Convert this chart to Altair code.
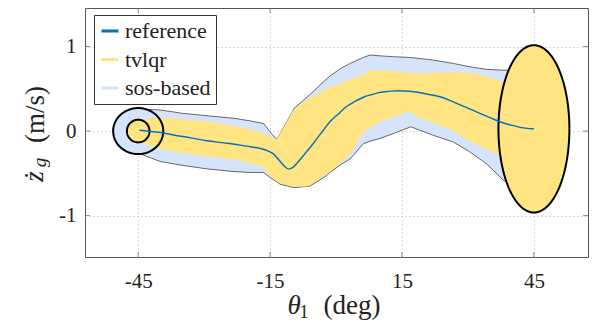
import numpy as np
import pandas as pd
import altair as alt

# ---------------- data ----------------
x_ticks = [-45, -15, 15, 45]
y_ticks = [-1, 0, 1]

ref_theta = [-44.7, -42, -39.6, -37, -33, -29.4, -25.5, -21.8, -19.5, -17.3, -15.7, -14.25,
             -12.7, -11.2, -10.8, -9.8, -8.9, -6.7, -4.8, -2.9, -1.4, 0.9, 2.4, 4.3, 6.2, 8,
             10, 12, 13.8, 15.7, 17.6, 19.5, 21.4, 23.6, 26, 28.2, 30.5, 32.7, 35, 37.3,
             39.5, 41.8, 43.5, 45]
ref_z = [0.01, -0.005, -0.02, -0.047, -0.08, -0.115, -0.14, -0.166, -0.186, -0.205, -0.23, -0.27,
         -0.36, -0.44, -0.45, -0.43, -0.38, -0.245, -0.12, 0.01, 0.11, 0.22, 0.29, 0.35, 0.40, 0.43,
         0.458, 0.47, 0.477, 0.474, 0.465, 0.45, 0.43, 0.406, 0.36, 0.31, 0.26, 0.21, 0.16, 0.11,
         0.075, 0.044, 0.032, 0.027]

sos_theta = [-45, -40, -35, -29, -23, -19.5, -16.5, -15, -13.5, -12.7, -9.5, -5.9, -2.5, -1.4,
             1, 3.2, 6.2, 7.7, 10, 13, 17, 22.1, 26.7, 30.5, 34.3, 38, 41, 45]
sos_upper = [0.26, 0.25, 0.21, 0.18, 0.15, 0.12, 0.09, -0.01, -0.10, -0.03, 0.27, 0.435, 0.60, 0.65,
             0.74, 0.80, 0.87, 0.90, 0.89, 0.88, 0.87, 0.84, 0.80, 0.76, 0.73, 0.72, 0.72, 0.72]
sos_lower = [-0.26, -0.36, -0.405, -0.45, -0.48, -0.49, -0.49, -0.55, -0.60, -0.63, -0.67, -0.65,
             -0.54, -0.49, -0.40, -0.33, -0.15, -0.12, -0.087, -0.03, 0.05, -0.05, -0.13, -0.25,
             -0.39, -0.58, -0.68, -0.75]

tv_theta = [-45, -42.5, -40, -35, -29, -23, -19.5, -16.5, -15, -13.5, -12.7, -9.7, -6.7, -5.9,
            -1.4, 1, 3.2, 6.2, 8.1, 10, 13, 16.5, 19, 22, 26.7, 30.5, 34, 37.3, 41, 45]
tv_upper = [0.12, 0.15, 0.16, 0.14, 0.11, 0.06, 0.02, -0.03, -0.06, -0.10, -0.03, 0.25, 0.37, 0.39,
            0.52, 0.56, 0.61, 0.67, 0.72, 0.72, 0.71, 0.69, 0.68, 0.69, 0.70, 0.69, 0.65, 0.59, 0.52, 0.45]
tv_lower = [-0.12, -0.17, -0.21, -0.26, -0.30, -0.34, -0.38, -0.43, -0.54, -0.59, -0.62, -0.66,
            -0.655, -0.64, -0.48, -0.38, -0.28, -0.01, 0.05, 0.11, 0.17, 0.23, 0.16, 0.10, 0.0,
            -0.12, -0.21, -0.28, -0.35, -0.42]

# ellipses: centre (theta, z) and semi-axes (deg, m/s)
start_center = [-45, 0.0]
start_outer_r = [5.7, 0.272]
start_inner_r = [2.57, 0.134]
end_center = [45, 0.026]
end_r = [8.07, 0.99]

series_names = ["reference", "tvlqr", "sos-based"]
series_colors = ["#0072BD", "#FFE481", "#D5E3FB"]

# ---------------- chart ----------------
FONT = "Liberation Serif"
TXT = "#222222"
W, H = 503, 249

xs = alt.Scale(domain=[-57.1, 57.3], nice=False, zero=False)
ys = alt.Scale(domain=[-1.49, 1.456], nice=False, zero=False)

x_axis = alt.Axis(values=x_ticks, labelExpr="'' + datum.value", title=None, grid=True,
                  gridColor="#b5b5b5", gridDash=[1, 3], gridWidth=1, domain=False, ticks=False,
                  labelFont=FONT, labelFontSize=21, labelColor=TXT, labelPadding=13)
y_axis = alt.Axis(values=y_ticks, labelExpr="'' + datum.value", title=None, grid=True,
                  gridColor="#b5b5b5", gridDash=[1, 3], gridWidth=1, domain=False, ticks=False,
                  labelFont=FONT, labelFontSize=21, labelColor=TXT, labelPadding=9)

X = alt.X("x:Q", scale=xs, axis=x_axis)
Y = alt.Y("y:Q", scale=ys, axis=y_axis)
Y2L = alt.Y("y2:Q", scale=ys, axis=y_axis)


def ellipse_df(c, r, n=121):
    t = np.linspace(0, 2 * np.pi, n)
    return pd.DataFrame({"x": c[0] + r[0] * np.cos(t), "y": c[1] + r[1] * np.sin(t), "i": np.arange(n)})


sos_df = pd.DataFrame({"x": sos_theta, "y": sos_upper, "y2": sos_lower})
tv_df = pd.DataFrame({"x": tv_theta, "y": tv_upper, "y2": tv_lower})
ref_df = pd.DataFrame({"x": ref_theta, "y": ref_z, "series": "reference"})

sos_area = alt.Chart(sos_df).mark_area(color=series_colors[2], opacity=1).encode(x=X, y=Y, y2="y2:Q")
sos_up = alt.Chart(sos_df).mark_line(color="#444444", strokeWidth=0.8).encode(x=X, y=Y)
sos_lo = alt.Chart(sos_df).mark_line(color="#444444", strokeWidth=0.8).encode(x=X, y=Y2L)
tv_area = alt.Chart(tv_df).mark_area(color=series_colors[1], opacity=1).encode(x=X, y=Y, y2="y2:Q")


def ell(c, r, fill, outline=True):
    return alt.Chart(ellipse_df(c, r)).mark_line(
        fill=fill, stroke="black" if outline else fill, strokeWidth=2 if outline else 0.5
    ).encode(x=X, y=Y, order="i:Q")


outer_fill = ell(start_center, start_outer_r, series_colors[2], outline=False)
inner_fill = ell(start_center, start_inner_r, series_colors[1], outline=False)
outer_line = alt.Chart(ellipse_df(start_center, start_outer_r)).mark_line(
    color="black", strokeWidth=2).encode(x=X, y=Y, order="i:Q")
inner_line = alt.Chart(ellipse_df(start_center, start_inner_r)).mark_line(
    color="black", strokeWidth=2).encode(x=X, y=Y, order="i:Q")
end_ell = ell(end_center, end_r, series_colors[1], outline=True)

ref_line = alt.Chart(ref_df).mark_line(strokeWidth=1.4, interpolate="monotone").encode(
    x=X, y=Y,
    color=alt.Color("series:N",
                    scale=alt.Scale(domain=series_names, range=series_colors),
                    legend=alt.Legend(title=None, orient="none", legendX=9, legendY=7,
                                      direction="vertical", symbolType="stroke",
                                      symbolStrokeWidth=3, symbolSize=289,
                                      labelFont=FONT, labelFontSize=22, labelColor=TXT,
                                      labelOffset=4, rowPadding=6.5, padding=5,
                                      strokeColor="#333333", fillColor="white")),
)

# inner tick marks on all four sides of the box
xt_df = pd.DataFrame({"x": x_ticks})
yt_df = pd.DataFrame({"y": y_ticks})
tick_style = dict(color="#555555", thickness=1, size=10, clip=True)
xt_bot = alt.Chart(xt_df).mark_tick(orient="vertical", **tick_style).encode(x=X, y=alt.value(H))
xt_top = alt.Chart(xt_df).mark_tick(orient="vertical", **tick_style).encode(x=X, y=alt.value(0))
yt_l = alt.Chart(yt_df).mark_tick(orient="horizontal", **tick_style).encode(y=Y, x=alt.value(0))
yt_r = alt.Chart(yt_df).mark_tick(orient="horizontal", **tick_style).encode(y=Y, x=alt.value(W))


def txt(s, x, y, size, italic=False, angle=0, align="center"):
    return alt.Chart(pd.DataFrame({"t": [s]})).mark_text(
        font=FONT, fontSize=size, fontStyle="italic" if italic else "normal",
        align=align, baseline="alphabetic", angle=angle, color=TXT
    ).encode(x=alt.value(x), y=alt.value(y), text="t:N")


# axis titles built from pieces (italic symbols with subscripts)
xt1 = txt("θ", 209, 306, 27, italic=True)
xt2 = txt("1", 219, 310, 18)
xt3 = txt("(deg)", 267, 306, 27)
yt1 = txt("ż", -42, 168.5, 27, italic=True, angle=270)
yt2 = txt("g", -39, 154.5, 19, italic=True, angle=270)
yt3 = txt("(m/s)", -41.5, 106.5, 27, angle=270)

chart = alt.layer(
    sos_area, sos_up, sos_lo, outer_fill, tv_area, inner_fill, outer_line, inner_line,
    end_ell, ref_line, xt_bot, xt_top, yt_l, yt_r, xt1, xt2, xt3, yt1, yt2, yt3
).properties(
    width=W, height=H,
    autosize=alt.AutoSizeParams(type="none"),
    padding={"left": 77, "top": 0, "right": 2, "bottom": 68},
).configure(
    background="white", font=FONT
).configure_view(
    stroke="#555555", strokeWidth=1
).configure_axis(
    labelFont=FONT
).configure_legend(
    strokeWidth=1, labelFont=FONT
)

chart.save("out.html", embed_options={"renderer": "svg", "actions": False})
